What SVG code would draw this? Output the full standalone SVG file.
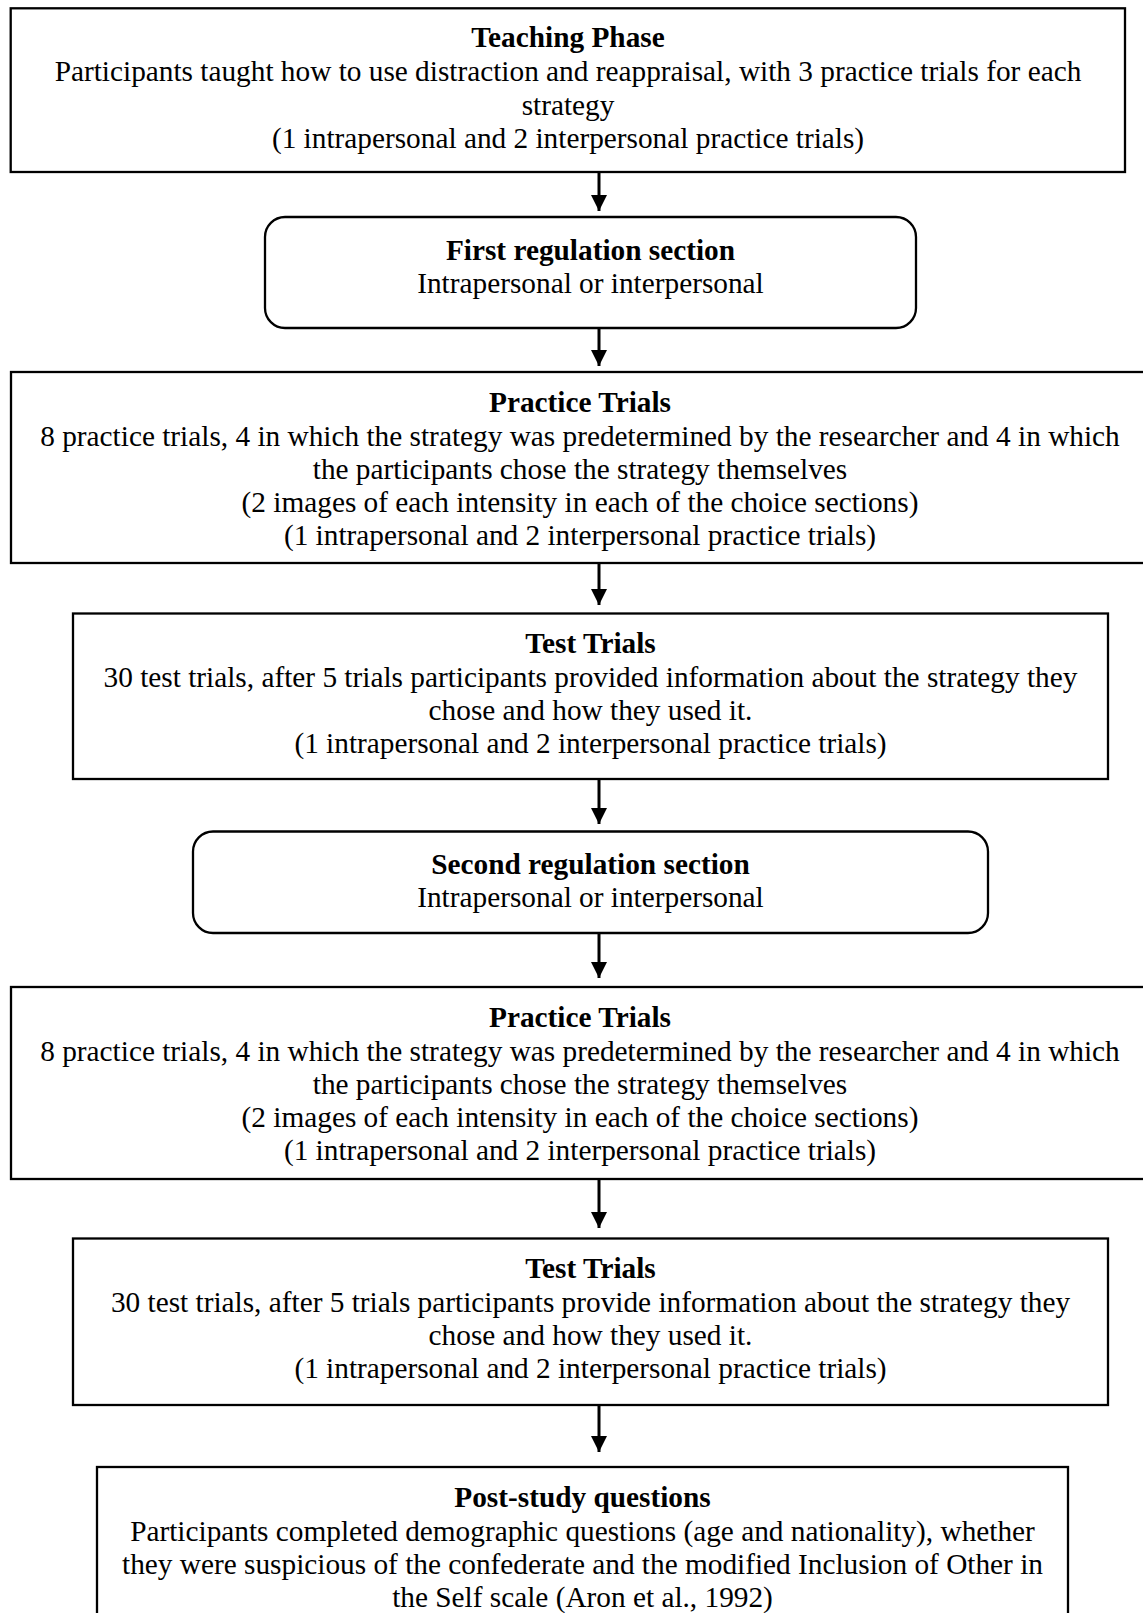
<svg xmlns="http://www.w3.org/2000/svg" width="1143" height="1613" viewBox="0 0 1143 1613">
<defs>
<style>
.box{fill:#fff;stroke:#000;stroke-width:2.3}
text{font-family:"Liberation Serif","Times New Roman",serif;font-size:29.3px;fill:#000;text-anchor:middle}
.t{font-weight:bold}
.edge{stroke:#000;stroke-width:3;fill:none}
</style>
<marker id="ah" markerUnits="userSpaceOnUse" markerWidth="18" markerHeight="16" refX="16" refY="8" orient="auto">
<path d="M0,0 L16,8 L0,16 Z" fill="#000"/>
</marker>
</defs>
<rect width="1143" height="1613" fill="#fff"/>
<g id="connectors">
<line class="edge" x1="599" y1="172" x2="599" y2="211" marker-end="url(#ah)"/>
<line class="edge" x1="599" y1="328" x2="599" y2="366" marker-end="url(#ah)"/>
<line class="edge" x1="599" y1="563" x2="599" y2="605" marker-end="url(#ah)"/>
<line class="edge" x1="599" y1="779" x2="599" y2="824" marker-end="url(#ah)"/>
<line class="edge" x1="599" y1="933" x2="599" y2="978" marker-end="url(#ah)"/>
<line class="edge" x1="599" y1="1179" x2="599" y2="1228" marker-end="url(#ah)"/>
<line class="edge" x1="599" y1="1405" x2="599" y2="1452" marker-end="url(#ah)"/>
</g>
<g id="teaching">
<rect class="box" x="10.7" y="8.3" width="1114.3" height="163.7"/>
<text class="t" x="568" y="46.7">Teaching Phase</text>
<text x="568" y="81">Participants taught how to use distraction and reappraisal, with 3 practice trials for each</text>
<text x="568" y="115">strategy</text>
<text x="568" y="148">(1 intrapersonal and 2 interpersonal practice trials)</text>
</g>
<g id="first-regulation">
<rect class="box" x="265" y="217" width="651" height="111" rx="20" ry="20"/>
<text class="t" x="590.5" y="260">First regulation section</text>
<text x="590.5" y="293">Intrapersonal or interpersonal</text>
</g>
<g id="practice-1">
<rect class="box" x="11" y="372" width="1145" height="191"/>
<text class="t" x="580" y="412">Practice Trials</text>
<text x="580" y="445.5">8 practice trials, 4 in which the strategy was predetermined by the researcher and 4 in which</text>
<text x="580" y="479">the participants chose the strategy themselves</text>
<text x="580" y="512">(2 images of each intensity in each of the choice sections)</text>
<text x="580" y="545">(1 intrapersonal and 2 interpersonal practice trials)</text>
</g>
<g id="test-1">
<rect class="box" x="73" y="613.5" width="1035" height="165.5"/>
<text class="t" x="590.5" y="653">Test Trials</text>
<text x="590.5" y="687">30 test trials, after 5 trials participants provided information about the strategy they</text>
<text x="590.5" y="720">chose and how they used it.</text>
<text x="590.5" y="753">(1 intrapersonal and 2 interpersonal practice trials)</text>
</g>
<g id="second-regulation">
<rect class="box" x="193" y="831.5" width="795" height="101.5" rx="20" ry="20"/>
<text class="t" x="590.5" y="874">Second regulation section</text>
<text x="590.5" y="907">Intrapersonal or interpersonal</text>
</g>
<g id="practice-2">
<rect class="box" x="11" y="987" width="1145" height="192"/>
<text class="t" x="580" y="1027">Practice Trials</text>
<text x="580" y="1060.5">8 practice trials, 4 in which the strategy was predetermined by the researcher and 4 in which</text>
<text x="580" y="1094">the participants chose the strategy themselves</text>
<text x="580" y="1127">(2 images of each intensity in each of the choice sections)</text>
<text x="580" y="1160">(1 intrapersonal and 2 interpersonal practice trials)</text>
</g>
<g id="test-2">
<rect class="box" x="73" y="1238.5" width="1035" height="166.5"/>
<text class="t" x="590.5" y="1278">Test Trials</text>
<text x="590.5" y="1312">30 test trials, after 5 trials participants provide information about the strategy they</text>
<text x="590.5" y="1345">chose and how they used it.</text>
<text x="590.5" y="1378">(1 intrapersonal and 2 interpersonal practice trials)</text>
</g>
<g id="post-study">
<rect class="box" x="97" y="1467" width="971" height="160"/>
<text class="t" x="582.5" y="1507">Post-study questions</text>
<text x="582.5" y="1541">Participants completed demographic questions (age and nationality), whether</text>
<text x="582.5" y="1574">they were suspicious of the confederate and the modified Inclusion of Other in</text>
<text x="582.5" y="1607">the Self scale (Aron et al., 1992)</text>
</g>
</svg>
